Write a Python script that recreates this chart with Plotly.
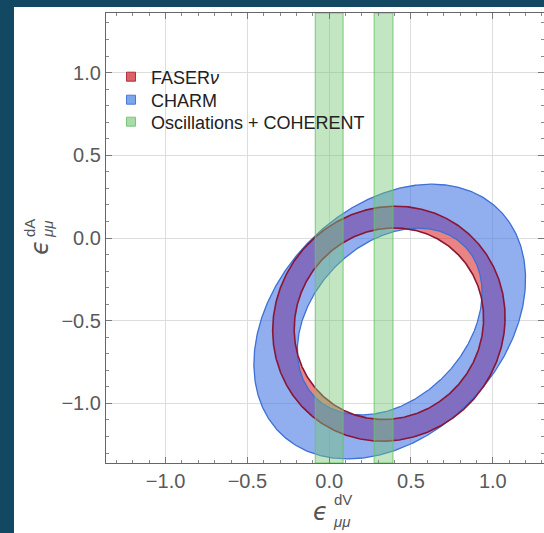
import numpy as np
import plotly.graph_objects as go

# ---- data -------------------------------------------------------------
# Allowed bands (Oscillations + COHERENT) in eps_dV
band_lo = [-0.085, 0.275]
band_hi = [0.085, 0.390]

# Elliptical ring regions: centre, outer semi-axes, inner/outer scale, tilt (deg)
faser_center = [0.365, -0.518]
faser_axes = [0.73, 0.69]
faser_inner_scale = 0.815
faser_tilt = 45.0

charm_center = [0.37, -0.505]
charm_axes = [0.95, 0.69]
charm_inner_scale = 0.68
charm_tilt = 45.0

tick_vals = [-1.0, -0.5, 0.0, 0.5, 1.0]
tick_text = ["\u22121.0", "\u22120.5", "0.0", "0.5", "1.0"]

legend_names = ["FASER<i>\u03bd</i>", "CHARM", "Oscillations + COHERENT"]

x_range = [-1.364, 1.313]
y_range = [-1.36, 1.36]

# ---- layout geometry --------------------------------------------------
W, H = 544, 533
ml, mr, mt, mb = 106, 0, 13, 70
plot_w = W - ml - mr
plot_h = H - mt - mb

N = 720
PHI = np.linspace(0, 2 * np.pi, N)


def rot(vx, vy, ang):
    c, s = np.cos(ang), np.sin(ang)
    return c * vx - s * vy, s * vx + c * vy


def radius(origin, center, axes, tilt, scale=1.0):
    """Distance from origin to the ellipse boundary along each angle PHI."""
    th = np.deg2rad(tilt)
    a, b = axes[0] * scale, axes[1] * scale
    w0x, w0y = rot(origin[0] - center[0], origin[1] - center[1], -th)
    w1x, w1y = rot(np.cos(PHI), np.sin(PHI), -th)
    A = (w1x / a) ** 2 + (w1y / b) ** 2
    B = 2 * (w0x * w1x / a ** 2 + w0y * w1y / b ** 2)
    C = (w0x / a) ** 2 + (w0y / b) ** 2 - 1
    return (-B + np.sqrt(B * B - 4 * A * C)) / (2 * A)


def band_path(origin, r_out, r_in):
    xo = origin[0] + r_out * np.cos(PHI)
    yo = origin[1] + r_out * np.sin(PHI)
    xi = origin[0] + r_in * np.cos(PHI)
    yi = origin[1] + r_in * np.sin(PHI)
    return np.concatenate([xo, xi[::-1]]), np.concatenate([yo, yi[::-1]])


origin = [(faser_center[0] + charm_center[0]) / 2,
          (faser_center[1] + charm_center[1]) / 2]
r_f_out = radius(origin, faser_center, faser_axes, faser_tilt)
r_f_in = radius(origin, faser_center, faser_axes, faser_tilt, faser_inner_scale)
r_c_out = radius(origin, charm_center, charm_axes, charm_tilt)
r_c_in = radius(origin, charm_center, charm_axes, charm_tilt, charm_inner_scale)

fig = go.Figure()

red_fill = "rgba(220,50,50,0.6)"
red_line = "#8b1532"
blue_fill = "rgba(65,115,228,0.58)"
blue_line = "#3d70d6"
both_fill = "rgba(128,108,194,0.88)"
green_fill = "rgba(120,200,120,0.45)"
green_line = "rgba(100,195,100,0.85)"


def fill_trace(xy, color):
    fig.add_trace(go.Scatter(x=xy[0], y=xy[1], fill="toself", fillcolor=color,
                             mode="none", showlegend=False, hoverinfo="skip"))


# FASERnu ring, CHARM ring, and their overlap
fill_trace(band_path(origin, r_f_out, r_f_in), red_fill)
fill_trace(band_path(origin, r_c_out, r_c_in), blue_fill)
fill_trace(band_path(origin, np.minimum(r_f_out, r_c_out),
                     np.maximum(r_f_in, r_c_in)), both_fill)

# ring borders
for r, col, w in [(r_c_out, blue_line, 1.3), (r_c_in, blue_line, 1.3),
                  (r_f_out, red_line, 1.6), (r_f_in, red_line, 1.6)]:
    fig.add_trace(go.Scatter(x=origin[0] + r * np.cos(PHI),
                             y=origin[1] + r * np.sin(PHI), mode="lines",
                             line=dict(color=col, width=w),
                             showlegend=False, hoverinfo="skip"))

# green bands across the full y range
for lo, hi in zip(band_lo, band_hi):
    fig.add_trace(go.Scatter(
        x=[lo, hi, hi, lo, lo],
        y=[y_range[0], y_range[0], y_range[1], y_range[1], y_range[0]],
        fill="toself", fillcolor=green_fill,
        line=dict(color=green_line, width=1),
        mode="lines", showlegend=False, hoverinfo="skip"))

axis_common = dict(
    showline=True, linecolor="#666666", linewidth=1.2, mirror="allticks",
    ticks="inside", ticklen=6, tickcolor="#777777", tickwidth=1,
    tickmode="array", tickvals=tick_vals, ticktext=tick_text,
    tickfont=dict(family="Liberation Sans, Arial, sans-serif", size=20,
                  color="#5a5a5a"),
    showgrid=True, gridcolor="#dddddd", gridwidth=1, zeroline=False,
    minor=dict(dtick=0.1, tick0=0, ticks="inside", ticklen=3,
               tickcolor="#888888", showgrid=False),
)

fig.update_xaxes(range=x_range, **axis_common)
fig.update_yaxes(range=y_range, **axis_common)

px2x = lambda p: (p - ml) / plot_w
px2y = lambda p: 1 - (p - mt) / plot_h

# legend: one entry per legend box so the rows sit close together
legend_rows = [77, 100, 122]
legend_style = [("rgba(215,70,75,0.85)", "#b03040"),
                ("rgba(100,150,235,0.85)", "#4a78d8"),
                ("rgba(150,215,150,0.85)", "#7cc67c")]
legend_layout = {}
for i, (name, (fc, lc), row) in enumerate(zip(legend_names, legend_style, legend_rows)):
    key = "legend" if i == 0 else f"legend{i + 1}"
    fig.add_trace(go.Scatter(x=[None], y=[None], mode="markers", name=name,
                             legend=key,
                             marker=dict(symbol="square", size=9, color=fc,
                                         line=dict(color=lc, width=1))))
    legend_layout[key] = dict(
        x=px2x(111), y=px2y(row), xanchor="left", yanchor="middle",
        bgcolor="rgba(0,0,0,0)",
        font=dict(family="Liberation Sans, Arial", size=18, color="#222222"))

# white panel on the dark page
fig.add_shape(type="rect", xref="paper", yref="paper",
              x0=px2x(14), x1=px2x(W + 10), y0=px2y(H + 10), y1=px2y(7),
              fillcolor="white", line=dict(width=0), layer="below")

title_col = "#555555"
eps_font = dict(family="DejaVu Sans, sans-serif", size=24, color=title_col)
idx_font = dict(family="Liberation Sans, Arial", size=15, color=title_col)


def label(px, py, text, font, angle=0):
    fig.add_annotation(xref="paper", yref="paper", x=px2x(px), y=px2y(py),
                       xanchor="center", yanchor="middle", text=text,
                       showarrow=False, textangle=angle, font=font)


# x-axis title: epsilon_{mu mu}^{dV}
label(320, 512, "<i>\u03f5</i>", eps_font)
label(343, 499, "dV", idx_font)
label(341, 521, "<i>\u03bc\u03bc</i>", idx_font)
# y-axis title: epsilon_{mu mu}^{dA} (rotated)
label(40, 248, "<i>\u03f5</i>", eps_font, -90)
label(29, 228, "dA", idx_font, -90)
label(47, 230, "<i>\u03bc\u03bc</i>", idx_font, -90)

fig.update_layout(
    width=W, height=H,
    margin=dict(l=ml, r=mr, t=mt, b=mb),
    paper_bgcolor="#124862", plot_bgcolor="white",
    showlegend=True,
    **legend_layout,
)

fig.write_html("out.html")
